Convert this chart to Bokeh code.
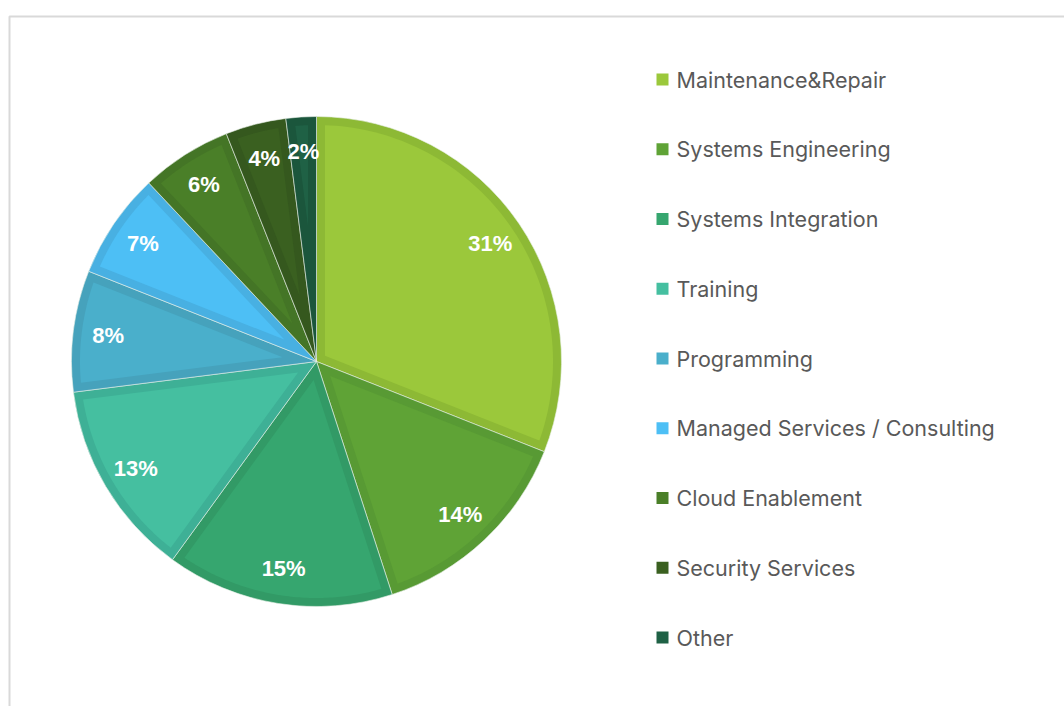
import numpy as np
from bokeh.plotting import figure
from bokeh.models import Range1d, ColumnDataSource
from bokeh.core.properties import value
from bokeh.embed import file_html
from bokeh.resources import INLINE

categories = ["Maintenance&Repair", "Systems Engineering", "Systems Integration",
              "Training", "Programming", "Managed Services / Consulting",
              "Cloud Enablement", "Security Services", "Other"]
shares = [31, 14, 15, 13, 8, 7, 6, 4, 2]
fill_colors = ["#9BC83B", "#5FA336", "#36A66F", "#45BFA0", "#4AAFCB",
               "#4DBFF5", "#4A7F28", "#3A6020", "#1F6145"]
edge_colors = ["#8DB935", "#589A34", "#329A66", "#3EB096", "#46A2BC",
               "#48B0E2", "#447526", "#35581E", "#1B563C"]

W, H = 1064, 706
p = figure(width=W, height=H, x_range=Range1d(0, W), y_range=Range1d(0, H),
           output_backend="svg", toolbar_location=None, min_border=0,
           x_axis_location=None, y_axis_location=None)
p.grid.visible = False
p.outline_line_color = None
p.background_fill_color = "white"

# chart frame
p.line(x=[9, 9, W], y=[0, H - 16, H - 16], line_color="#d9d9d9", line_width=2)

cx, cy, R = 316, H - 361, 245
bw = 8.5
vals = np.array(shares, dtype=float)
frac = vals / vals.sum()
cum_end = np.cumsum(frac)
cum_start = cum_end - frac
a_start = np.pi / 2 - 2 * np.pi * cum_end
a_end = np.pi / 2 - 2 * np.pi * cum_start

src = ColumnDataSource(dict(start=a_start, end=a_end, fill=fill_colors, edge=edge_colors))
p.wedge(x=cx, y=cy, radius=R, start_angle="start", end_angle="end",
        direction="anticlock", fill_color="edge", line_color="#e8f0e8",
        line_width=0.6, source=src)

# inner lighter part of each slice
xs, ys = [], []
rho = R - bw
for a0, a1 in zip(a_start, a_end):
    th = a1 - a0
    mid = (a0 + a1) / 2
    apex = bw / np.sin(th / 2)
    off = np.arcsin(bw / rho)
    arc = np.linspace(a0 + off, a1 - off, 80)
    px = [cx + apex * np.cos(mid)] + list(cx + rho * np.cos(arc))
    py = [cy + apex * np.sin(mid)] + list(cy + rho * np.sin(arc))
    xs.append(px)
    ys.append(py)
p.patches(xs=xs, ys=ys, fill_color=fill_colors, line_color=None)

# percentage labels
mid = (a_start + a_end) / 2
lr = 210
p.text(x=cx + lr * np.cos(mid), y=cy + lr * np.sin(mid),
       text=[f"{int(v)}%" for v in shares],
       text_font=value("Liberation Sans"), text_font_style="bold",
       text_font_size="22px", text_color="white",
       text_align="center", text_baseline="middle")

# legend
n = len(categories)
ly = [H - 79 - i * 69.75 for i in range(n)]
p.rect(x=[662] * n, y=ly, width=12, height=12, fill_color=fill_colors, line_color=None)
p.text(x=[676] * n, y=ly, text=categories, text_font=value("Inter"),
       text_font_size="21.5px", text_color="#595959",
       text_align="left", text_baseline="middle")

open("out.html", "w").write(file_html(p, INLINE))
